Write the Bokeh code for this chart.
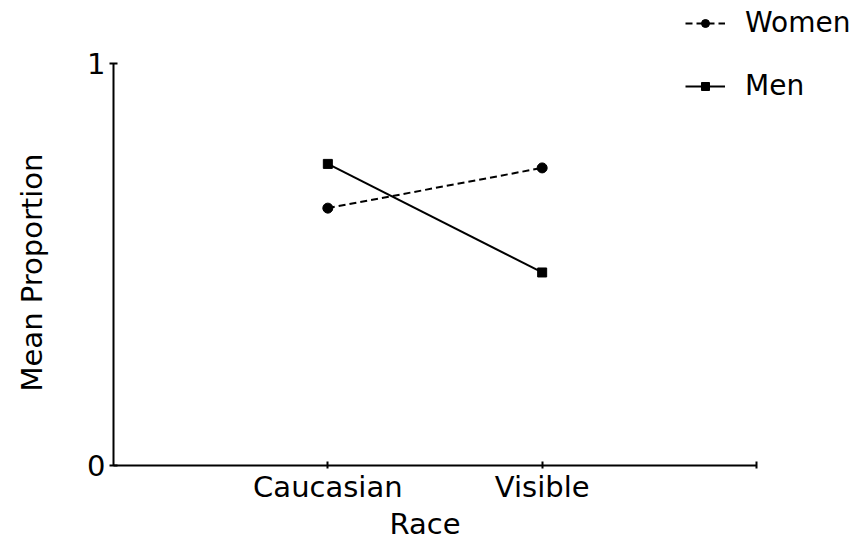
from bokeh.plotting import figure
from bokeh.models import Range1d, FixedTicker, Legend, LegendItem, Title
from bokeh.embed import file_html
from bokeh.resources import INLINE

# ---- data ----
races = ["Caucasian", "Visible"]
women = [0.64, 0.74]
men = [0.75, 0.48]
y_ticks = [0, 1]
x_title = "Race"
y_title = "Mean Proportion"

FONT = "DejaVu Sans"
FS = "29px"

xpos = [i + 1 for i in range(len(races))]
x_end = len(races) + 1

p = figure(width=850, height=542, output_backend="svg", toolbar_location=None,
           x_range=Range1d(0, 3.4386), y_range=Range1d(0, 1.1563),
           min_border_left=113, min_border_right=0, min_border_top=0, min_border_bottom=76)
p.background_fill_color = "white"
p.border_fill_color = "white"
p.outline_line_color = None
p.xgrid.visible = False
p.ygrid.visible = False

wl = p.line(xpos, women, line_color="black", line_width=2, line_dash="7 4")
wm = p.scatter(xpos, women, marker="circle", size=10, fill_color="black", line_color="black")
ml = p.line(xpos, men, line_color="black", line_width=2)
mm = p.scatter(xpos, men, marker="square", size=9, fill_color="black", line_color="black")

# axes
p.xaxis.ticker = FixedTicker(ticks=xpos + [x_end])
overrides = {x: r for x, r in zip(xpos, races)}
overrides[x_end] = ""
p.xaxis.major_label_overrides = overrides
p.xaxis.bounds = (0, x_end)
p.yaxis.ticker = FixedTicker(ticks=y_ticks)
p.yaxis.bounds = (y_ticks[0], y_ticks[-1])

for ax in (p.xaxis, p.yaxis):
    ax.axis_line_width = 2
    ax.axis_line_color = "black"
    ax.major_tick_line_width = 2
    ax.major_tick_line_color = "black"
    ax.minor_tick_line_color = None
    ax.major_tick_in = 4
    ax.major_tick_out = 4
    ax.major_label_text_font = FONT
    ax.major_label_text_font_size = FS
    ax.major_label_text_color = "black"

p.xaxis.major_tick_out = 3
p.xaxis.major_label_standoff = 1
p.yaxis.major_label_standoff = 4
p.yaxis.major_label_orientation = "horizontal"

# axis titles placed relative to the axis extent (not the whole frame)
yt = Title(text=y_title + "\n", align="left", offset=74, vertical_align="top", standoff=0,
           text_font=FONT, text_font_size=FS, text_font_style="normal", text_color="black")
p.add_layout(yt, "left")
xt = Title(text=x_title, align="left", offset=276, vertical_align="top", standoff=0,
           text_font=FONT, text_font_size=FS, text_font_style="normal", text_color="black")
p.add_layout(xt, "below")

legend = Legend(items=[LegendItem(label="Women", renderers=[wl, wm]),
                       LegendItem(label="Men", renderers=[ml, mm])],
                location=(572, 363), orientation="vertical",
                label_text_font=FONT, label_text_font_size="28px",
                label_text_color="black", glyph_width=40, glyph_height=20,
                spacing=30, padding=0, margin=0, label_standoff=20,
                border_line_color=None, background_fill_alpha=0)
p.add_layout(legend, "center")

open("out.html", "w").write(file_html(p, INLINE))
